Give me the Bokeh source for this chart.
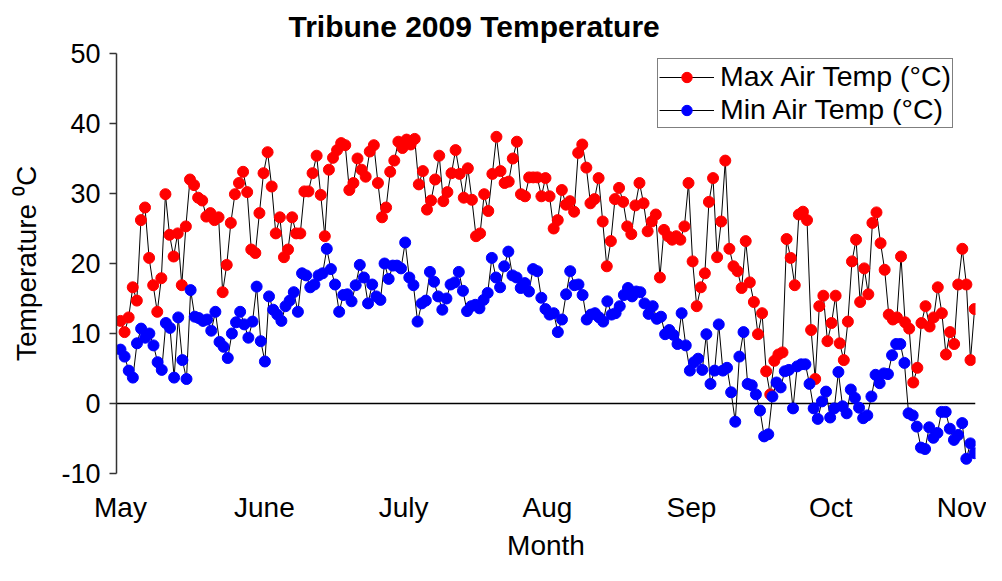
import numpy as np
from bokeh.plotting import figure
from bokeh.models import Span, Legend, LegendItem, FixedTicker, Range1d
from bokeh.embed import file_html
from bokeh.resources import INLINE

# Daily readings, 1 May - 1 Nov 2009
max_temp = [
    11.8, 10.2, 12.3, 16.6, 14.7, 26.2, 28.0, 20.8, 16.9, 13.1, 17.9, 29.9, 24.1, 21.0, 24.3, 16.9,
    25.3, 32.0, 31.2, 29.4, 29.0, 26.7, 27.2, 26.2, 26.6, 15.9, 19.8, 25.8, 29.9, 31.5, 33.1, 30.2,
    22.0, 21.5, 27.2, 32.9,
    35.9, 31.0, 24.3, 26.6, 20.9, 22.0, 26.6, 24.3, 24.3, 30.3, 30.3, 32.9, 35.4, 29.8, 23.9, 33.4,
    35.1, 36.2, 37.2, 36.9, 30.5, 31.5, 35.0, 33.4, 32.4, 36.0, 36.9, 31.5, 26.6, 28.0, 33.1, 34.7,
    37.4, 36.5, 37.7,
    37.0, 37.8, 31.3, 33.2, 27.7, 29.0, 32.0, 35.4, 28.9, 30.2, 32.9, 36.2, 32.8, 29.4, 33.6, 29.1,
    23.9, 24.3, 29.9, 27.5, 32.8, 38.1, 33.2, 31.5, 31.7, 35.0, 37.4, 29.9, 29.6, 32.3, 32.3, 32.3,
    29.6, 32.2, 29.6, 25.0, 26.2, 30.5,
    28.4, 28.9, 27.4, 35.8, 37.0, 33.7, 28.6, 29.2, 32.2, 26.0, 19.6, 23.2, 29.2, 30.8, 28.8, 25.3,
    24.2, 28.3, 31.5, 28.6, 24.6, 26.0, 27.0, 18.0, 24.8, 23.9, 23.4, 23.9, 23.4, 25.3, 31.5, 20.3,
    13.9,
    16.6, 18.6, 28.8, 32.2, 20.9, 26.0, 34.7, 22.1, 19.6, 18.9, 16.5, 23.2, 17.3, 14.5, 9.9, 12.9,
    4.6, 1.3, 6.1, 7.0, 7.3, 23.5, 20.8, 16.9, 27.0, 27.4, 26.2, 10.5, 3.5, 13.9, 15.4, 8.9,
    11.5, 15.4, 8.6, 6.2, 11.7, 20.3, 23.4,
    14.5, 19.3, 15.6, 25.8, 27.3, 22.9, 19.1, 12.7, 12.0, 12.3, 21.0, 11.6, 10.7, 3.0, 5.1, 11.5,
    13.9, 11.0, 12.3, 16.6, 12.9, 7.0, 10.2, 8.5, 17.0, 22.1, 17.0, 6.2, 13.5,
]

min_temp = [
    7.7, 6.7, 4.7, 3.7, 8.6, 10.7, 9.4, 10.0, 8.3, 5.9, 4.8, 11.5, 10.8, 3.7, 12.3, 6.2,
    3.5, 16.2, 12.4, 12.2, 11.8, 12.0, 10.4, 13.1, 8.8, 8.1, 6.5, 10.0, 11.6, 13.1, 11.3, 9.4,
    11.7,
    16.7, 8.9, 6.0, 15.3, 13.4, 12.7, 11.8, 13.9, 14.7, 15.9, 13.1, 18.6, 18.3, 16.6, 17.0, 18.3,
    18.6, 22.1, 19.2, 17.0, 13.1, 15.5, 15.6, 14.6, 16.9, 19.8, 18.0, 14.3, 17.0, 15.3, 14.8, 20.0,
    17.8, 19.7, 19.7,
    19.3, 23.0, 18.0, 16.9, 11.7, 14.3, 14.7, 18.8, 17.4, 15.3, 13.4, 15.0, 17.0, 17.3, 18.8, 16.1,
    13.2, 13.9, 14.1, 13.6, 14.8, 15.8, 20.8, 18.0, 16.6, 19.6, 21.7, 18.3, 18.0, 16.5, 17.2, 16.0,
    19.2, 18.9, 15.1, 13.5, 12.7,
    12.9, 10.2, 12.0, 15.6, 18.9, 16.9, 17.0, 15.5, 12.0, 12.7, 12.9, 12.3, 11.7, 14.6, 12.7, 12.9,
    13.9, 15.5, 16.5, 15.3, 16.0, 15.9, 14.3, 12.8, 13.9, 12.1, 12.4, 9.9, 10.5, 9.8, 8.5, 12.9,
    8.3, 4.7, 5.9,
    6.4, 4.8, 9.9, 2.8, 4.7, 11.3, 4.7, 5.1, 1.6, -2.6, 6.7, 10.2, 2.8, 2.6, 1.3, -1.0,
    -4.7, -4.4, 1.0, 3.0, 2.3, 4.6, 4.8, -0.7, 5.3, 5.6, 5.6, 2.8, -0.7, -2.2, 0.3, 1.7,
    -2.0, -0.7, 4.5, -0.4, -1.4, 2.0, 0.8,
    -0.6, -2.1, -1.7, 1.0, 4.1, 2.9, 4.3, 4.2, 6.9, 8.5, 8.5, 5.8, -1.4, -1.7, -3.3, -6.3,
    -6.5, -3.4, -4.9, -4.2, -1.2, -1.2, -3.6, -5.2, -4.5, -2.8, -7.9, -5.7, -7.1,
]

chart_title = "Tribune 2009 Temperature"
month_labels = ["May", "June", "July", "Aug", "Sep", "Oct", "Nov"]
month_start_day = [0, 31, 61, 92, 123, 153, 184]   # days after 1 May
season_days = 184
y_ticks = [-10, 0, 10, 20, 30, 40, 50]
y_tick_labels = ["-10", "0", "10", "20", "30", "40", "50"]

# readings spread evenly over the season (day offsets from 1 May)
x_max = np.linspace(0, season_days, len(max_temp))
x_min = np.linspace(0, season_days, len(min_temp))

FONT = "Liberation Sans"

p = figure(width=986, height=565, output_backend="svg", toolbar_location=None,
           x_range=Range1d(-0.86, 184.2), y_range=Range1d(-10, 50),
           min_border_left=116, min_border_right=11, min_border_top=52, min_border_bottom=92)
p.outline_line_color = None
p.grid.grid_line_color = None
p.background_fill_color = "white"
p.border_fill_color = "white"

p.title.text = chart_title
p.title.align = "left"
p.title.offset = 172
p.title.vertical_align = "top"
p.title.standoff = 18
p.title.text_font = FONT
p.title.text_font_size = "30px"
p.title.text_font_style = "bold"
p.title.text_color = "black"

p.add_layout(Span(location=0, dimension="width", line_color="black", line_width=1.5, level="underlay"))

r_max_line = p.line(x_max, max_temp, line_color="black", line_width=1)
r_max_pts = p.scatter(x_max, max_temp, size=11, fill_color="#FF0000", line_color="#FF0000")
r_min_line = p.line(x_min, min_temp, line_color="black", line_width=1)
r_min_pts = p.scatter(x_min, min_temp, size=11, fill_color="#0000FF", line_color="#0000FF")

# Y axis
yax = p.yaxis[0]
yax.ticker = FixedTicker(ticks=y_ticks)
yax.major_label_overrides = {t: s for t, s in zip(y_ticks, y_tick_labels)}
yax.minor_tick_line_color = None
yax.major_tick_in = 0
yax.major_tick_out = 7
yax.axis_line_color = "#333333"
yax.axis_line_width = 1.5
yax.major_tick_line_color = "#333333"
yax.major_tick_line_width = 1.5
yax.major_label_text_font = FONT
yax.major_label_text_font_size = "27px"
yax.major_label_text_color = "black"
yax.major_label_standoff = 9
yax.axis_label = "Temperature \u2070C"
yax.axis_label_text_font = FONT
yax.axis_label_text_font_size = "28px"
yax.axis_label_text_font_style = "normal"
yax.axis_label_text_color = "black"
yax.axis_label_standoff = 16

# X axis
xax = p.xaxis[0]
xax.ticker = FixedTicker(ticks=month_start_day)
xax.major_label_overrides = {d: m for d, m in zip(month_start_day, month_labels)}
xax.axis_line_color = None
xax.major_tick_line_color = None
xax.minor_tick_line_color = None
xax.major_tick_in = 0
xax.major_tick_out = 0
xax.major_label_text_font = FONT
xax.major_label_text_font_size = "28px"
xax.major_label_text_color = "black"
xax.major_label_standoff = 18
xax.axis_label = "Month"
xax.axis_label_text_font = FONT
xax.axis_label_text_font_size = "28px"
xax.axis_label_text_font_style = "normal"
xax.axis_label_text_color = "black"
xax.axis_label_standoff = 4

legend = Legend(items=[
    LegendItem(label="Max Air Temp (\u00b0C)", renderers=[r_max_line, r_max_pts]),
    LegendItem(label="Min Air Temp (\u00b0C)", renderers=[r_min_line, r_min_pts]),
], location=(541, 345))
legend.border_line_color = "black"
legend.border_line_width = 1.5
legend.background_fill_color = "white"
legend.background_fill_alpha = 1
legend.label_text_font = FONT
legend.label_text_font_size = "28.5px"
legend.label_text_color = "black"
legend.glyph_width = 55
legend.glyph_height = 26
legend.label_height = 26
legend.label_standoff = 6
legend.spacing = 0
legend.padding = 1
legend.margin = 0
p.add_layout(legend)

open("out.html", "w").write(file_html(p, INLINE))
